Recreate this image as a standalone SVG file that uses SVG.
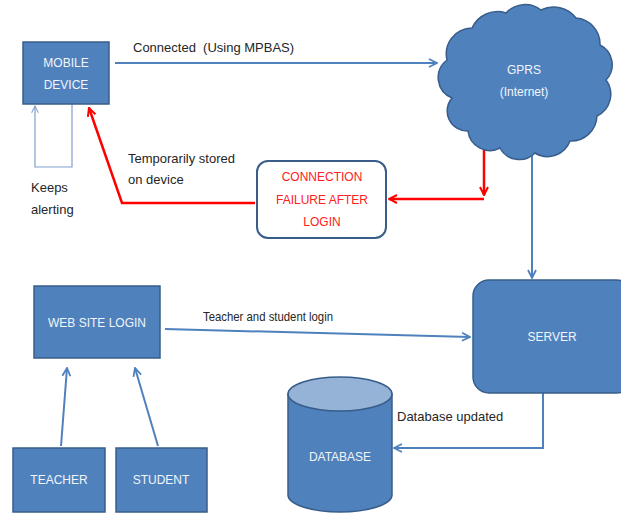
<svg xmlns="http://www.w3.org/2000/svg" width="621" height="516" viewBox="0 0 621 516">
<defs>
<style>
.box{fill:#4F81BD;stroke:#385D8A;stroke-width:1.5}
.wt{fill:#F2F5FA;font-family:"Liberation Sans",Arial,sans-serif;font-size:12px;text-anchor:middle}
.lbl{fill:#262626;font-family:"Liberation Sans",Arial,sans-serif;font-size:13px}
.rt{fill:#FF2020;font-family:"Liberation Sans",Arial,sans-serif;font-size:12px;text-anchor:middle}
.bl{fill:none;stroke:#4F81BD;stroke-width:2}
.rd{fill:none;stroke:#FF0000;stroke-width:2.5}
</style>
<marker id="ab" viewBox="0 0 10 10" refX="9" refY="5" markerWidth="5" markerHeight="5" orient="auto" markerUnits="strokeWidth">
<path d="M1,1 L9,5 L1,9" fill="none" stroke="#4F81BD" stroke-width="1.8"/>
</marker>
<marker id="ar" viewBox="0 0 10 10" refX="9" refY="5" markerWidth="4" markerHeight="4" orient="auto" markerUnits="strokeWidth">
<path d="M1,1 L9,5 L1,9" fill="none" stroke="#FF0000" stroke-width="2"/>
</marker>
<marker id="at" viewBox="0 0 10 10" refX="9" refY="5" markerWidth="7" markerHeight="7" orient="auto" markerUnits="strokeWidth">
<path d="M1,1 L9,5 L1,9" fill="none" stroke="#7F9FCF" stroke-width="1.2"/>
</marker>
</defs>
<rect width="621" height="516" fill="#FFFFFF"/>

<g id="connectors">
<line class="bl" x1="115" y1="63" x2="437" y2="63" marker-end="url(#ab)"/>
<path d="M72,104 L72,167 L35,167 L35,106" fill="none" stroke="#7F9FCF" stroke-width="1.2" marker-end="url(#at)"/>
<path class="rd" d="M255,203 L122,203 L89,108" marker-end="url(#ar)"/>
<path class="rd" d="M484,140 L484,195" marker-end="url(#ar)"/>
<path class="rd" d="M484,199 L389,199" marker-end="url(#ar)"/>
<line class="bl" x1="532" y1="156" x2="532" y2="278" marker-end="url(#ab)"/>
<line class="bl" x1="165" y1="329" x2="470" y2="337" marker-end="url(#ab)"/>
<line class="bl" x1="61" y1="446" x2="67" y2="368" marker-end="url(#ab)"/>
<line class="bl" x1="158" y1="446" x2="135" y2="368" marker-end="url(#ab)"/>
<path class="bl" d="M543,393 L543,448 L394,448" marker-end="url(#ab)"/>
<text class="lbl" x="133" y="52" font-size="15" style="white-space:pre">Connected  (Using MPBAS)</text>
<text class="lbl" x="31" y="192">Keeps</text>
<text class="lbl" x="31" y="214">alerting</text>
<text class="lbl" x="128" y="163">Temporarily stored</text>
<text class="lbl" x="128" y="184">on device</text>
<text class="lbl" x="203" y="321" font-size="11" textLength="130" lengthAdjust="spacingAndGlyphs">Teacher and student login</text>
<text class="lbl" x="397" y="421">Database updated</text>
</g>

<g id="mobile">
<rect class="box" x="23" y="42" width="86" height="62"/>
<text class="wt" x="66" y="67">MOBILE</text>
<text class="wt" x="66" y="89">DEVICE</text>
</g>

<g id="gprs">
<path class="box" d="M452,98 A22,22 0 0 1 447,60 A26,26 0 0 1 472,28 A28,28 0 0 1 506,13 A26,26 0 0 1 541,10 A28,28 0 0 1 576,18 A26,26 0 0 1 600,45 A22,22 0 0 1 606,80 A24,24 0 0 1 597,116 A26,26 0 0 1 570,141 A24,24 0 0 1 535,153 A22,22 0 0 1 500,148 A22,22 0 0 1 468,131 A20,20 0 0 1 452,98 Z"/>
<text class="wt" x="524" y="74">GPRS</text>
<text class="wt" x="524" y="96">(Internet)</text>
</g>

<g id="failure">
<rect x="257" y="161" width="129" height="77" rx="11" fill="#FFFFFF" stroke="#385D8A" stroke-width="2"/>
<text class="rt" x="322" y="181">CONNECTION</text>
<text class="rt" x="322" y="204">FAILURE AFTER</text>
<text class="rt" x="322" y="226">LOGIN</text>
</g>

<g id="weblogin">
<rect class="box" x="34" y="286" width="126" height="72"/>
<text class="wt" x="97" y="327">WEB SITE LOGIN</text>
</g>

<g id="server">
<rect class="box" x="473" y="280" width="160" height="113" rx="16"/>
<text class="wt" x="552" y="341">SERVER</text>
</g>

<g id="teacher">
<rect class="box" x="13" y="448" width="92" height="64"/>
<text class="wt" x="59" y="484">TEACHER</text>
</g>

<g id="student">
<rect class="box" x="116" y="448" width="91" height="64"/>
<text class="wt" x="161" y="484">STUDENT</text>
</g>

<g id="database">
<path class="box" d="M288,394 L288,495 A52,17 0 0 0 392,495 L392,394 Z"/>
<ellipse cx="340" cy="394" rx="52" ry="17" fill="#95B3D7" stroke="#385D8A" stroke-width="1.5"/>
<text class="wt" x="340" y="461">DATABASE</text>
</g>
</svg>
